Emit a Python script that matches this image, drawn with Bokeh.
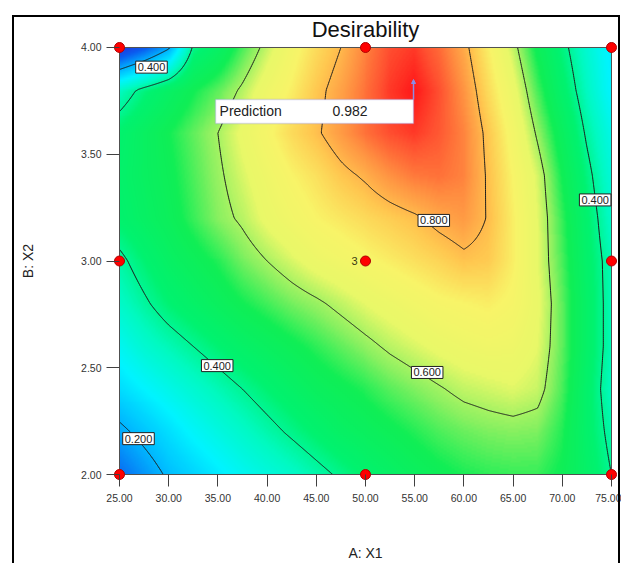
import numpy as np
from bokeh.plotting import figure
from bokeh.models import (Range1d, FixedTicker, LinearColorMapper, Label,
                          BoxAnnotation, Arrow, NormalHead, InlineStyleSheet)
from bokeh.embed import file_html
from bokeh.resources import INLINE

# ---- factor levels (grid of the response surface) ----
x1_grid = [25, 27.5, 30, 32.5, 35, 37.5, 40, 42.5, 45, 47.5, 50,
           52.5, 55, 57.5, 60, 62.5, 65, 67.5, 70, 72.5, 75]
x2_grid = [2.0, 2.2, 2.4, 2.6, 2.8, 3.0, 3.2, 3.4, 3.6, 3.8, 4.0]

# desirability, one row per X2 level (bottom to top)
d_200 = [0.12, 0.165, 0.21, 0.24, 0.27, 0.30, 0.325, 0.35, 0.38, 0.41, 0.44, 0.465, 0.49, 0.51, 0.525, 0.535, 0.54, 0.54, 0.515, 0.46, 0.40]
d_220 = [0.185, 0.22, 0.255, 0.29, 0.32, 0.35, 0.38, 0.41, 0.44, 0.47, 0.49, 0.51, 0.53, 0.55, 0.565, 0.575, 0.58, 0.575, 0.53, 0.45, 0.38]
d_240 = [0.25, 0.28, 0.31, 0.34, 0.37, 0.40, 0.43, 0.46, 0.49, 0.51, 0.53, 0.555, 0.575, 0.595, 0.615, 0.625, 0.635, 0.62, 0.55, 0.45, 0.36]
d_260 = [0.30, 0.34, 0.37, 0.40, 0.43, 0.46, 0.485, 0.51, 0.535, 0.56, 0.585, 0.61, 0.63, 0.65, 0.665, 0.675, 0.67, 0.64, 0.56, 0.46, 0.37]
d_280 = [0.35, 0.39, 0.43, 0.46, 0.49, 0.52, 0.545, 0.57, 0.59, 0.615, 0.64, 0.66, 0.68, 0.70, 0.71, 0.72, 0.70, 0.65, 0.56, 0.46, 0.37]
d_300 = [0.385, 0.43, 0.47, 0.50, 0.53, 0.57, 0.60, 0.63, 0.66, 0.68, 0.70, 0.72, 0.74, 0.76, 0.785, 0.775, 0.72, 0.64, 0.55, 0.45, 0.37]
d_320 = [0.44, 0.47, 0.50, 0.54, 0.58, 0.61, 0.65, 0.68, 0.71, 0.73, 0.75, 0.77, 0.79, 0.82, 0.84, 0.795, 0.72, 0.64, 0.54, 0.44, 0.35]
d_340 = [0.45, 0.48, 0.51, 0.55, 0.59, 0.63, 0.67, 0.71, 0.74, 0.78, 0.81, 0.85, 0.88, 0.89, 0.87, 0.79, 0.71, 0.63, 0.52, 0.42, 0.33]
d_360 = [0.44, 0.48, 0.52, 0.56, 0.60, 0.65, 0.70, 0.75, 0.79, 0.84, 0.89, 0.93, 0.95, 0.92, 0.87, 0.78, 0.69, 0.59, 0.49, 0.39, 0.31]
d_380 = [0.36, 0.42, 0.47, 0.52, 0.56, 0.61, 0.67, 0.72, 0.78, 0.83, 0.89, 0.95, 0.982, 0.93, 0.85, 0.75, 0.66, 0.55, 0.45, 0.36, 0.28]
d_400 = [0.03, 0.10, 0.19, 0.41, 0.47, 0.55, 0.62, 0.69, 0.75, 0.80, 0.87, 0.93, 0.95, 0.90, 0.82, 0.72, 0.62, 0.51, 0.42, 0.34, 0.27]

contour_levels = [0.2, 0.4, 0.6, 0.8]

# labelled contours
label_text = ["0.400", "0.800", "0.400", "0.600", "0.400", "0.200"]
label_x1 = [28.25, 56.94, 73.34, 56.27, 34.93, 26.93]
label_x2 = [3.908, 3.19, 3.286, 2.478, 2.51, 2.168]

# design points (face-centred runs)
design_x1 = [25, 25, 25, 50, 50, 50, 75, 75, 75]
design_x2 = [2.0, 3.0, 4.0, 2.0, 3.0, 4.0, 2.0, 3.0, 4.0]
center_runs = "3"

# optimum flag
pred_x1 = 54.88
pred_x2 = 3.85
pred_value = 0.982

x_ticks = [25, 30, 35, 40, 45, 50, 55, 60, 65, 70, 75]
x_tick_labels = ["25.00", "30.00", "35.00", "40.00", "45.00", "50.00",
                 "55.00", "60.00", "65.00", "70.00", "75.00"]
y_ticks = [2.0, 2.5, 3.0, 3.5, 4.0]
y_tick_labels = ["2.00", "2.50", "3.00", "3.50", "4.00"]

FONT = "Liberation Sans"
TXT = "#222222"

z = np.array([d_200, d_220, d_240, d_260, d_280, d_300,
              d_320, d_340, d_360, d_380, d_400])


def resample(xs, ys, zz, nx, ny):
    """Bilinear resampling of the grid for a smooth shaded surface."""
    xf = np.linspace(xs[0], xs[-1], nx)
    yf = np.linspace(ys[0], ys[-1], ny)
    tmp = np.array([np.interp(xf, xs, row) for row in zz])
    out = np.array([np.interp(yf, ys, tmp[:, i]) for i in range(nx)]).T
    return xf, yf, out


xf, yf, zf = resample(np.array(x1_grid, float), np.array(x2_grid, float), z, 493, 215)

# blue -> cyan -> green -> yellow -> red ramp
stops = [(0.00, "#2a2ad6"), (0.10, "#0a5cf0"), (0.20, "#00b8ff"),
         (0.28, "#00f4ff"), (0.36, "#00fac0"), (0.43, "#00f270"),
         (0.52, "#10ee55"), (0.58, "#88f060"), (0.64, "#e8f868"),
         (0.71, "#f8f468"), (0.78, "#ffc850"), (0.86, "#ff8c40"),
         (0.93, "#ff5030"), (0.98, "#ff1a1a"), (1.00, "#ff1010")]
pos = [s[0] for s in stops]
rgb = np.array([[int(c[1:3], 16), int(c[3:5], 16), int(c[5:7], 16)] for _, c in stops])
t = np.linspace(0, 1, 256)
palette = ["#%02x%02x%02x" % tuple(int(round(np.interp(v, pos, rgb[:, k]))) for k in range(3)) for v in t]

# page frame drawn around the chart
frame_css = InlineStyleSheet(css="""
:host { position: relative; }
:host::after {
  content: ""; position: absolute; z-index: 50; pointer-events: none;
  left: 12px; top: 15px; width: 608px; height: 560px;
  border: 2px solid #000; border-bottom: none; box-sizing: border-box;
}
""")

px_per_x1 = 9.84
px_per_x2 = 214.0
p = figure(width=621, height=563,
           x_range=Range1d(25 - 7 / px_per_x1, 75 + 7 / px_per_x1),
           y_range=Range1d(2 - 6 / px_per_x2, 4 + 6 / px_per_x2),
           output_backend="svg", toolbar_location=None,
           min_border_left=112, min_border_right=3,
           min_border_top=41, min_border_bottom=82,
           background_fill_color="white", border_fill_color="white",
           outline_line_color=None, stylesheets=[frame_css])
p.grid.visible = False

p.title.text = "Desirability"
p.title.align = "center"
p.title.text_font = FONT
p.title.text_font_size = "22px"
p.title.text_font_style = "normal"
p.title.text_color = "#111111"
p.title.standoff = 0

mapper = LinearColorMapper(palette=palette, low=0.0, high=1.0)
p.image(image=[zf], x=x1_grid[0], y=x2_grid[0], dw=x1_grid[-1] - x1_grid[0],
        dh=x2_grid[-1] - x2_grid[0], color_mapper=mapper, level="image")

p.contour(xf, yf, zf, levels=contour_levels, line_color="#1c1c1c", line_width=1)

# plot boundary
p.quad(left=[x1_grid[0]], right=[x1_grid[-1]], bottom=[x2_grid[0]], top=[x2_grid[-1]],
       fill_color=None, line_color="#505050", line_width=1)

# design points
p.scatter(design_x1, design_x2, marker="circle", size=10,
          fill_color="#ff0000", line_color="#b00000", line_width=1)
p.add_layout(Label(x=50, y=3.0, text=center_runs, x_offset=-8, text_align="right",
                   text_baseline="middle", text_font=FONT, text_font_size="11px",
                   text_color="#3a3a12"))

# contour labels
for txt, lx, ly in zip(label_text, label_x1, label_x2):
    p.add_layout(Label(x=lx, y=ly, text=txt, text_align="center", text_baseline="middle",
                       text_font=FONT, text_font_size="11px", text_color=TXT,
                       background_fill_color="white", border_line_color="#202020",
                       border_line_width=1, padding=2))

# prediction flag
box_w = 20.12
box_top = pred_x2 - 20 / px_per_x2
box_bot = box_top - 24 / px_per_x2
p.add_layout(Arrow(x_start=pred_x1, y_start=box_top, x_end=pred_x1, y_end=pred_x2,
                   line_color="#8c8ce6", line_width=1.5,
                   end=NormalHead(size=4, fill_color="#8c8ce6", line_color="#8c8ce6")))
p.add_layout(BoxAnnotation(left=pred_x1 - box_w, right=pred_x1, bottom=box_bot, top=box_top,
                           fill_color="white", fill_alpha=1.0,
                           line_color="#8c8ce6", line_width=1.5))
p.add_layout(Label(x=pred_x1 - box_w, y=(box_top + box_bot) / 2, x_offset=4,
                   text="Prediction", text_baseline="middle", text_font=FONT,
                   text_font_size="14px", text_color=TXT))
p.add_layout(Label(x=pred_x1 - box_w, y=(box_top + box_bot) / 2, x_offset=117,
                   text="%.3f" % pred_value, text_baseline="middle", text_font=FONT,
                   text_font_size="14px", text_color=TXT))

# axes
for ax, ticks, labels, name in ((p.xaxis, x_ticks, x_tick_labels, "A: X1"),
                                (p.yaxis, y_ticks, y_tick_labels, "B: X2")):
    ax.ticker = FixedTicker(ticks=ticks)
    ax.major_label_overrides = dict(zip(ticks, labels))
    ax.axis_line_color = None
    ax.minor_tick_line_color = None
    ax.major_tick_line_color = "#404040"
    ax.major_tick_out = 6
    ax.major_label_text_font = FONT
    ax.major_label_text_font_size = "10.5px"
    ax.major_label_text_color = "#333333"
    ax.axis_label = name
    ax.axis_label_text_font = FONT
    ax.axis_label_text_font_size = "14px"
    ax.axis_label_text_font_style = "normal"
    ax.axis_label_text_color = "#222222"
p.xaxis.major_tick_in = 6
p.yaxis.major_tick_in = 7
p.xaxis.major_label_standoff = 7
p.yaxis.major_label_standoff = 5
p.xaxis.axis_label_standoff = 40
p.yaxis.axis_label_standoff = 42

open("out.html", "w").write(file_html(p, INLINE))
